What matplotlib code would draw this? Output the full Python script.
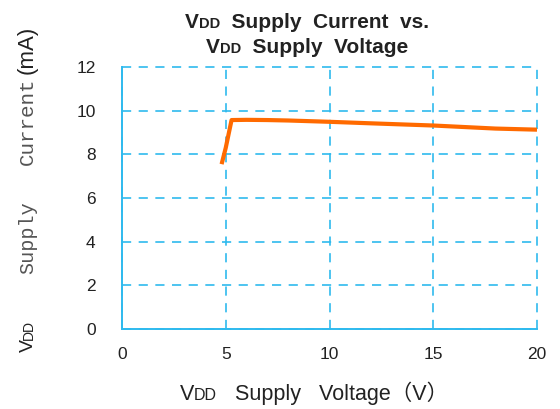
import matplotlib
matplotlib.use("Agg")
import matplotlib.pyplot as plt
from matplotlib.offsetbox import TextArea, HPacker, VPacker, AnnotationBbox

# curve
voltage = [4.8, 5.0, 5.28, 6.0, 7.0, 8.0, 10.0, 12.0, 15.0, 18.0, 20.0]
current = [7.55, 8.3, 9.57, 9.58, 9.57, 9.55, 9.49, 9.42, 9.32, 9.18, 9.13]
xticks = [0, 5, 10, 15, 20]
yticks = [0, 2, 4, 6, 8, 10, 12]

blue = "#2fbaee"
orange = "#ff6a00"
txt = "#222222"
sans = ["Liberation Sans", "Noto Sans CJK SC", "DejaVu Sans"]
mono = ["Liberation Mono", "DejaVu Sans Mono"]

W, H = 560, 409
fig = plt.figure(figsize=(W / 100, H / 100), dpi=100)
ax = fig.add_axes([122 / W, 1 - 329 / H, (537 - 122) / W, (329 - 67) / H])

ax.plot(voltage, current, color=orange, lw=3.0, solid_capstyle="butt",
        solid_joinstyle="round", zorder=3, clip_on=False)

ax.set_xlim(0, 20)
ax.set_ylim(0, 12)
ax.set_xticks(xticks)
ax.set_yticks(yticks)
ax.grid(True, color=blue, lw=1.2, linestyle=(0, (5.5, 4.5)))
for gl in ax.get_xgridlines() + ax.get_ygridlines():
    gl.set_clip_on(False)
ax.tick_params(length=0, labelsize=12.5, labelcolor=txt)
ax.tick_params(axis="y", pad=19)
ax.tick_params(axis="x", pad=13)
for lab in ax.get_xticklabels() + ax.get_yticklabels():
    lab.set_family(sans)
for s in ("top", "right"):
    ax.spines[s].set_visible(False)
for s in ("left", "bottom"):
    ax.spines[s].set_color(blue)
    ax.spines[s].set_linewidth(1.4)


def vdd_row(rest, size, weight, small):
    big = dict(size=size, weight=weight, color=txt, family=sans)
    sm = dict(size=small, weight=weight, color=txt, family=sans)
    return HPacker(children=[TextArea("V", textprops=big),
                             TextArea("DD", textprops=sm),
                             TextArea(rest, textprops=big)],
                   align="baseline", pad=0, sep=0)


# title, two lines
title = VPacker(children=[vdd_row("  Supply  Current  vs.", 15, "bold", 10.5),
                          vdd_row("  Supply  Voltage", 15, "bold", 10.5)],
                align="center", pad=0, sep=4)
fig.add_artist(AnnotationBbox(title, (307, H - 13), xycoords="figure pixels",
                              box_alignment=(0.5, 1), frameon=False))

# x label
xlab = vdd_row("   Supply   Voltage（V）", 15.5, "normal", 11.5)
fig.add_artist(AnnotationBbox(xlab, (314, 4), xycoords="figure pixels",
                              box_alignment=(0.5, 0), frameon=False))

# y label, pieces stacked upward
bx = 33 / W
kw = dict(rotation=90, rotation_mode="anchor", va="baseline", ha="center")
fig.text(bx, 1 - 346 / H, "V", size=14, family=sans, color=txt, **kw)
fig.text(bx, 1 - 330 / H, "DD", size=10, family=sans, color=txt, **kw)
fig.text(bx, 1 - 238 / H, "Supply", size=14.5, family=mono, color="#555555", **kw)
fig.text(bx, 1 - 121 / H, "Current", size=15, family=mono, color="#555555", **kw)
fig.text(bx, 1 - 50 / H, "(mA)", size=16, family=sans, color=txt, **kw)

fig.savefig("out.png", dpi=100)
